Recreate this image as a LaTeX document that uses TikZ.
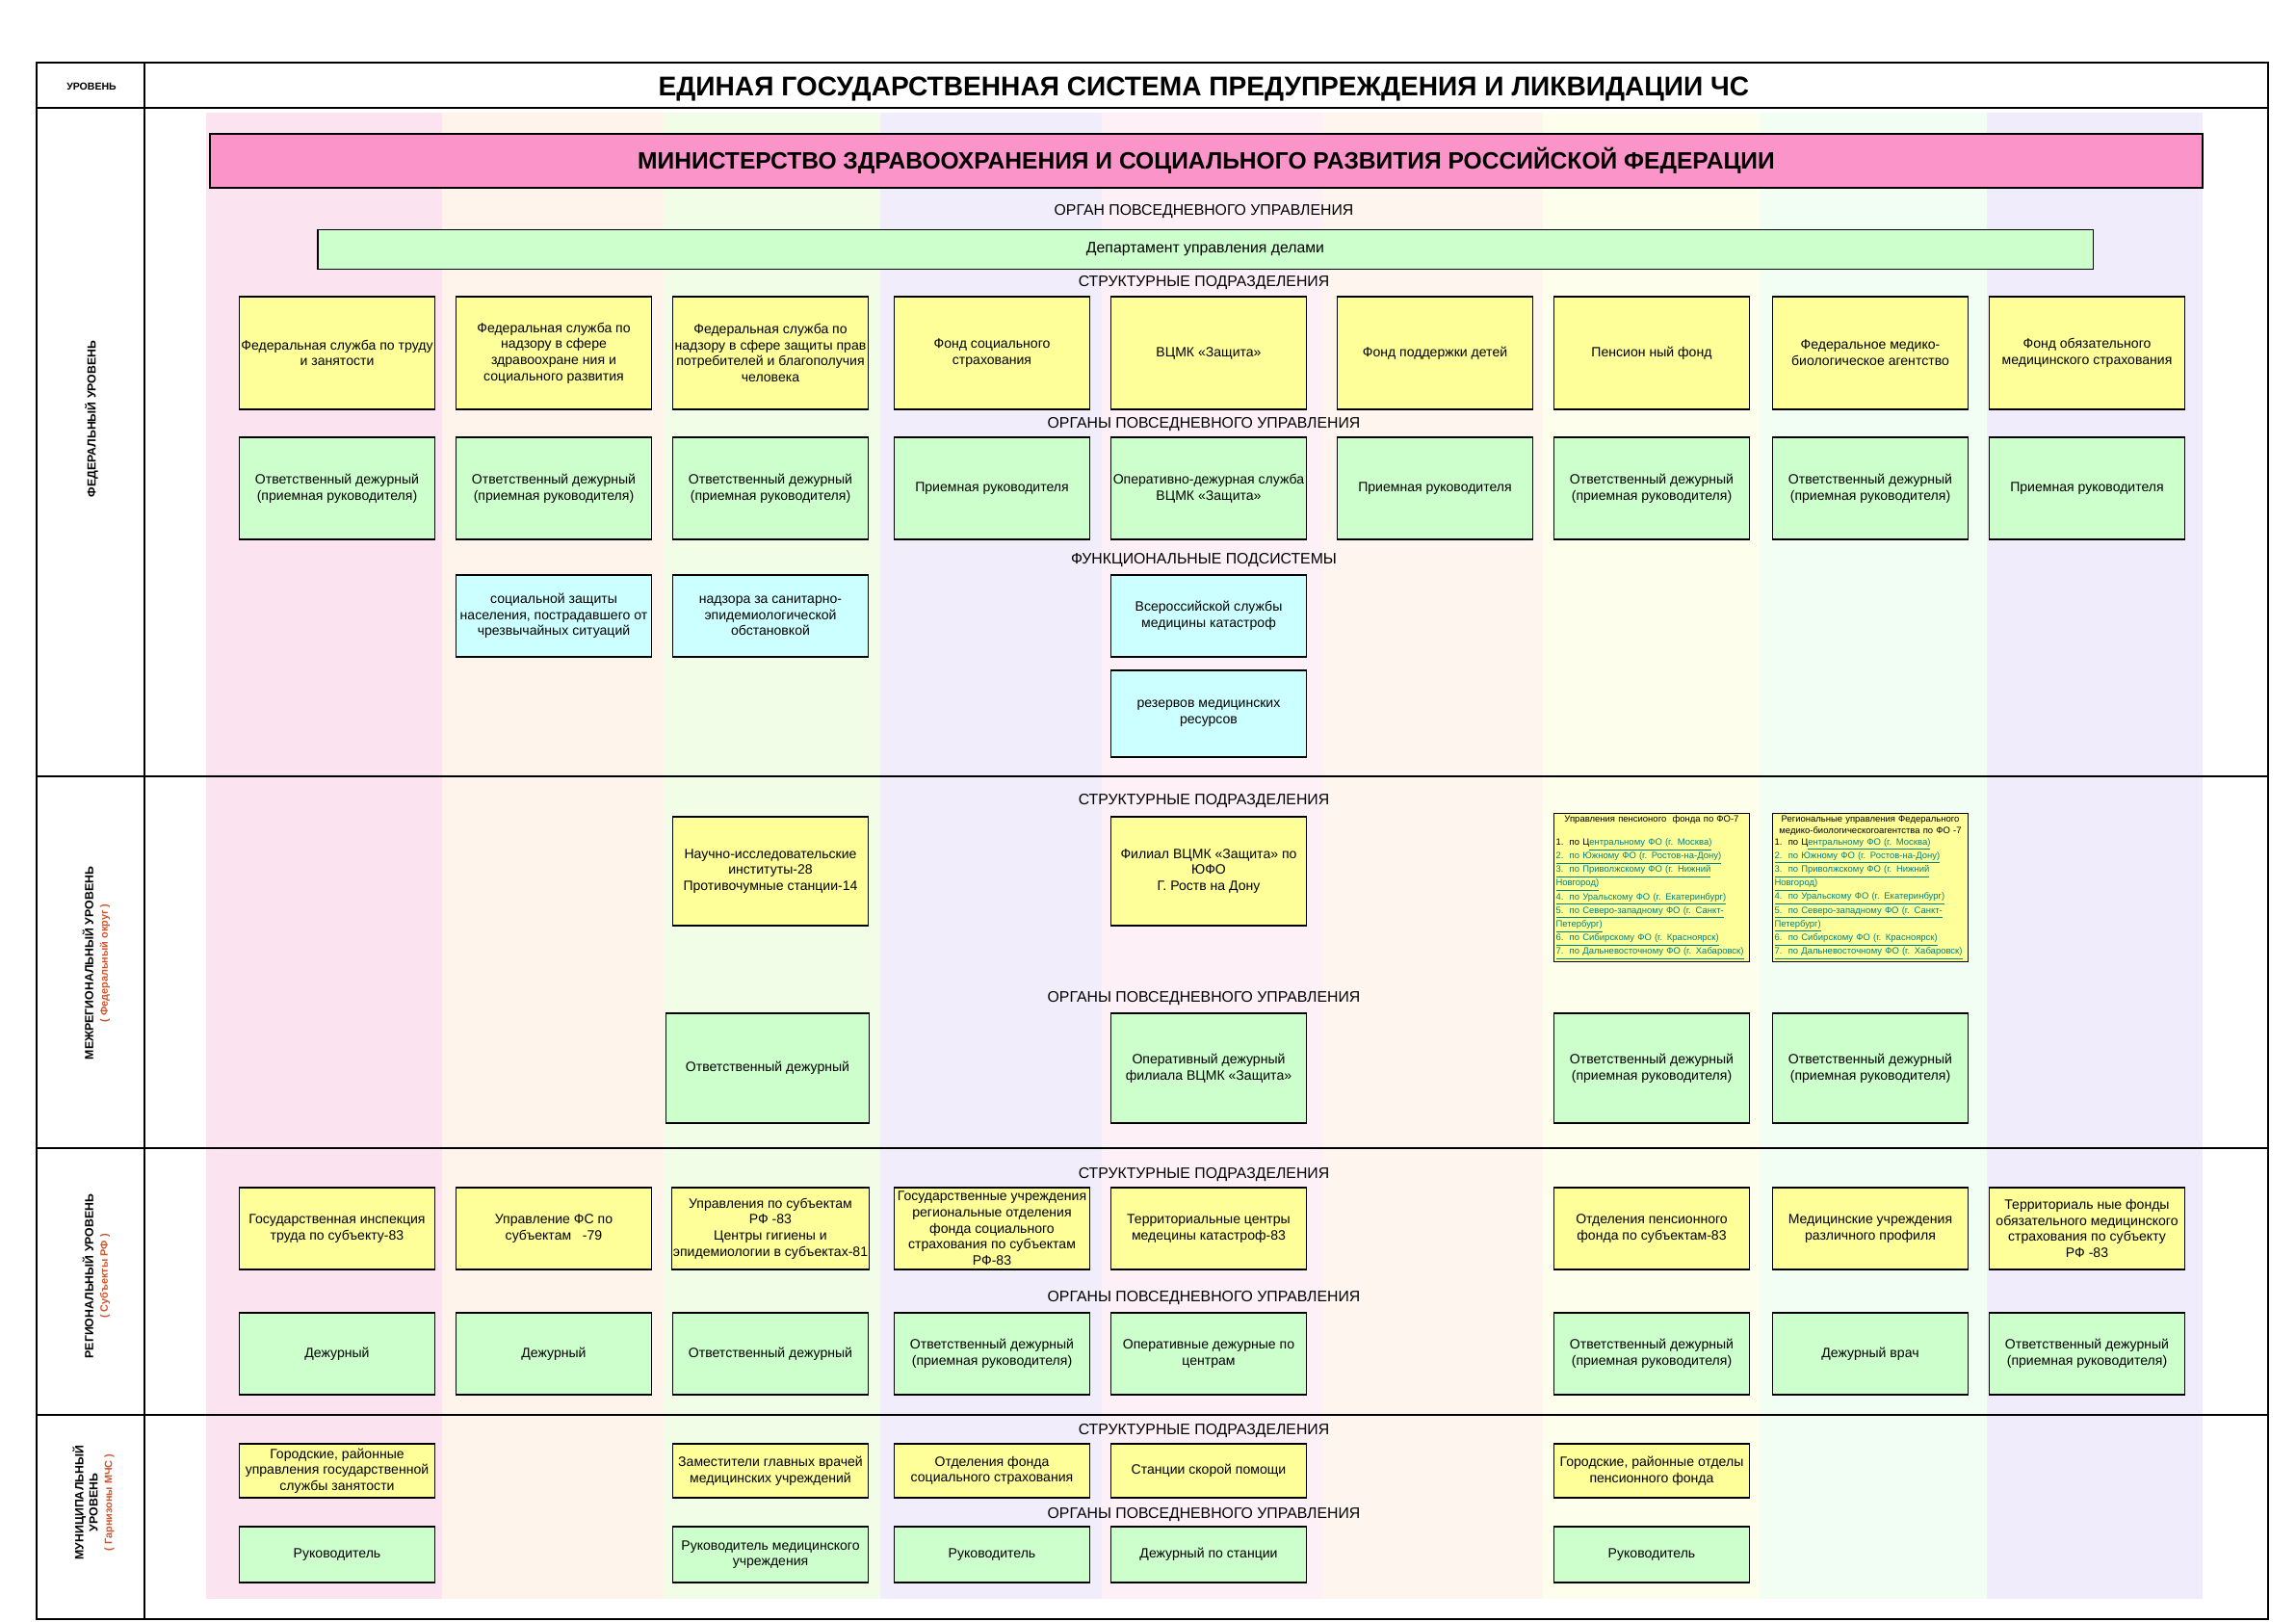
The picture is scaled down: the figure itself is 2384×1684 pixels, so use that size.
\documentclass[tikz,border=0pt]{standalone}
\usepackage{fontspec}
\setmainfont{Liberation Sans}
\definecolor{minpink}{RGB}{251,148,200}
\definecolor{boxyellow}{RGB}{255,255,153}
\definecolor{boxgreen}{RGB}{204,255,204}
\definecolor{boxcyan}{RGB}{204,255,255}
\definecolor{lvlred}{RGB}{205,85,45}
\definecolor{linkteal}{RGB}{0,128,128}
\definecolor{sa}{RGB}{252,227,240}
\definecolor{sb}{RGB}{254,244,236}
\definecolor{sc}{RGB}{241,253,231}
\definecolor{sd}{RGB}{241,237,251}
\definecolor{se}{RGB}{253,240,246}
\definecolor{sf}{RGB}{254,245,238}
\definecolor{sg}{RGB}{254,254,236}
\definecolor{sh}{RGB}{242,254,244}
\definecolor{si}{RGB}{240,236,251}
\newcommand{\boxfont}{\fontsize{8}{9.5}\selectfont}
\newcommand{\listfont}{\fontsize{5.4}{6.8}\selectfont}
\newcommand{\redfont}{\color{lvlred}\fontsize{6.2}{7.2}\selectfont}
\newcommand{\lnk}[1]{\textcolor{linkteal}{\underline{#1}}}
\newcommand{\okrlist}{%
1.\ \ по Ц\lnk{ентральному ФО (г. Москва)}\\
\lnk{2.\ \ по Южному ФО (г. Ростов-на-Дону)}\\
\lnk{3.\ \ по Приволжскому ФО (г. Нижний}\\
\lnk{Новгород)}\\
\lnk{4.\ \ по Уральскому ФО (г. Екатеринбург)}\\
\lnk{5.\ \ по Северо-западному ФО (г. Санкт-}\\
\lnk{Петербург)}\\
\lnk{6.\ \ по Сибирскому ФО (г. Красноярск)}\\
\lnk{7.\ \ по Дальневосточному ФО (г. Хабаровск)}}
\begin{document}
\begin{tikzpicture}[x=0.2mm,y=-0.2mm,
  box/.style={draw,line width=0.6pt,minimum width=40.6mm,inner sep=1pt,align=center,font=\boxfont},
  yel/.style={box,fill=boxyellow},
  grn/.style={box,fill=boxgreen},
  cyn/.style={box,fill=boxcyan},
  sect/.style={font=\fontsize{9}{11}\selectfont},
  lvl/.style={rotate=90,align=center,font=\bfseries\fontsize{7}{8.5}\selectfont}]
  \useasboundingbox (0,0) rectangle (2384,1684);
  \fill[white] (0,0) rectangle (2384,1684);
  \foreach \xa/\xb/\col in {214/459/sa,459/689/sb,689/914/sc,914/1144/sd,1144/1373/se,
    1373/1602/sf,1602/1827/sg,1827/2063/sh,2063/2287/si}
    \fill[\col] (\xa,117) rectangle (\xb,1660);
  \draw[line width=0.9pt] (38,65) rectangle (2355,1681);
  \draw[line width=0.9pt] (150,65) -- (150,1681);
  \foreach \yy in {112,806,1192,1469}
    \draw[line width=0.9pt] (38,\yy) -- (2355,\yy);

  \node[font=\bfseries\fontsize{6}{7}\selectfont] (hdr) at (95,90) {УРОВЕНЬ};
  \node[font=\bfseries\fontsize{16}{18}\selectfont] (title) at (1250,92)
    {ЕДИНАЯ ГОСУДАРСТВЕННАЯ СИСТЕМА ПРЕДУПРЕЖДЕНИЯ И ЛИКВИДАЦИИ ЧС};
  \node[lvl] (lfed) at (95,435) {ФЕДЕРАЛЬНЫЙ УРОВЕНЬ};
  \node[lvl] (lmreg) at (100,1000) {МЕЖРЕГИОНАЛЬНЫЙ УРОВЕНЬ\\{\redfont( Федеральный округ )}};
  \node[lvl] (lreg) at (100,1325) {РЕГИОНАЛЬНЫЙ УРОВЕНЬ\\{\redfont( Субъекты РФ )}};
  \node[lvl] (lmun) at (97,1560) {МУНИЦИПАЛЬНЫЙ\\УРОВЕНЬ\\{\redfont( Гарнизоны МЧС )}};

  \node[draw,line width=0.8pt,fill=minpink,minimum width=413.8mm,minimum height=11.2mm,
    font=\bfseries\fontsize{14}{16}\selectfont] (minzdrav) at (1252.5,167)
    {МИНИСТЕРСТВО ЗДРАВООХРАНЕНИЯ И СОЦИАЛЬНОГО РАЗВИТИЯ РОССИЙСКОЙ ФЕДЕРАЦИИ};
  \node[sect] (sorg) at (1250,220) {ОРГАН ПОВСЕДНЕВНОГО УПРАВЛЕНИЯ};
  \node[draw,line width=0.6pt,fill=boxgreen,minimum width=368.6mm,minimum height=8.3mm,
    font=\fontsize{9}{11}\selectfont] (dud) at (1251.5,259) {Департамент управления делами};

  \node[sect] (fstr) at (1250,294) {СТРУКТУРНЫЕ ПОДРАЗДЕЛЕНИЯ};
  \node[yel,minimum height=23.4mm] (fed1) at (350,366.5) {Федеральная служба по труду\\и занятости};
  \node[yel,minimum height=23.4mm] (fed2) at (575,366.5) {Федеральная служба по\\надзору в сфере\\здравоохране ния и\\социального развития};
  \node[yel,minimum height=23.4mm] (fed3) at (800,366.5) {Федеральная служба по\\надзору в сфере защиты прав\\потребителей и благополучия\\человека};
  \node[yel,minimum height=23.4mm] (fed4) at (1030,366.5) {Фонд социального\\страхования};
  \node[yel,minimum height=23.4mm] (fed5) at (1255,366.5) {ВЦМК «Защита»};
  \node[yel,minimum height=23.4mm] (fed6) at (1490,366.5) {Фонд поддержки детей};
  \node[yel,minimum height=23.4mm] (fed7) at (1715,366.5) {Пенсион ный фонд};
  \node[yel,minimum height=23.4mm] (fed8) at (1942,366.5) {Федеральное медико-\\биологическое агентство};
  \node[yel,minimum height=23.4mm] (fed9) at (2167,366.5) {Фонд обязательного\\медицинского страхования};

  \node[sect] (fop) at (1250,441) {ОРГАНЫ ПОВСЕДНЕВНОГО УПРАВЛЕНИЯ};
  \node[grn,minimum height=21.2mm] (fop1) at (350,507) {Ответственный дежурный\\(приемная руководителя)};
  \node[grn,minimum height=21.2mm] (fop2) at (575,507) {Ответственный дежурный\\(приемная руководителя)};
  \node[grn,minimum height=21.2mm] (fop3) at (800,507) {Ответственный дежурный\\(приемная руководителя)};
  \node[grn,minimum height=21.2mm] (fop4) at (1030,507) {Приемная руководителя};
  \node[grn,minimum height=21.2mm] (fop5) at (1255,507) {Оперативно-дежурная служба\\ВЦМК «Защита»};
  \node[grn,minimum height=21.2mm] (fop6) at (1490,507) {Приемная руководителя};
  \node[grn,minimum height=21.2mm] (fop7) at (1715,507) {Ответственный дежурный\\(приемная руководителя)};
  \node[grn,minimum height=21.2mm] (fop8) at (1942,507) {Ответственный дежурный\\(приемная руководителя)};
  \node[grn,minimum height=21.2mm] (fop9) at (2167,507) {Приемная руководителя};

  \node[sect] (ffun) at (1250,582) {ФУНКЦИОНАЛЬНЫЕ ПОДСИСТЕМЫ};
  \node[cyn,minimum height=17mm] (fun2) at (575,639.5) {социальной защиты\\населения, пострадавшего от\\чрезвычайных ситуаций};
  \node[cyn,minimum height=17mm] (fun3) at (800,639.5) {надзора за санитарно-\\эпидемиологической\\обстановкой};
  \node[cyn,minimum height=17mm] (fun5) at (1255,639.5) {Всероссийской службы\\медицины катастроф};
  \node[cyn,minimum height=18mm] (fun5b) at (1255,741) {резервов медицинских\\ресурсов};

  \node[sect] (mstr) at (1250,832) {СТРУКТУРНЫЕ ПОДРАЗДЕЛЕНИЯ};
  \node[yel,minimum height=22.6mm] (mreg3) at (800,904.5) {Научно-исследовательские\\институты-28\\Противочумные станции-14};
  \node[yel,minimum height=22.6mm] (mreg5) at (1255,904.5) {Филиал ВЦМК «Защита» по\\ЮФО\\Г. Роств на Дону};
  \node[yel,minimum height=29.4mm,text width=39.8mm,inner sep=0.4mm,align=left,font=\listfont] (mreg7) at (1715,921.5)
    {{\centering Управления пенсионого\ \ фонда по ФО-7\par}\vspace{6.8pt}\okrlist};
  \node[yel,minimum height=29.4mm,text width=39.8mm,inner sep=0.4mm,align=left,font=\listfont] (mreg8) at (1942,921.5)
    {{\centering Региональные управления Федерального\par медико-биологическогоагентства по ФО -7\par}\okrlist};

  \node[sect] (mop) at (1250,1037) {ОРГАНЫ ПОВСЕДНЕВНОГО УПРАВЛЕНИЯ};
  \node[grn,minimum height=22.8mm,minimum width=42.2mm] (mop3) at (797,1109) {Ответственный дежурный};
  \node[grn,minimum height=22.8mm] (mop5) at (1255,1109) {Оперативный дежурный\\филиала ВЦМК «Защита»};
  \node[grn,minimum height=22.8mm] (mop7) at (1715,1109) {Ответственный дежурный\\(приемная руководителя)};
  \node[grn,minimum height=22.8mm] (mop8) at (1942,1109) {Ответственный дежурный\\(приемная руководителя)};

  \node[sect] (rstr) at (1250,1220) {СТРУКТУРНЫЕ ПОДРАЗДЕЛЕНИЯ};
  \node[yel,minimum height=17mm] (reg1) at (350,1275.5) {Государственная инспекция\\труда по субъекту-83};
  \node[yel,minimum height=17mm] (reg2) at (575,1275.5) {Управление ФС по\\субъектам\ \ \ -79};
  \node[yel,minimum height=17mm] (reg3) at (800,1275.5) {Управления по субъектам\\РФ -83\\Центры гигиены и\\эпидемиологии в субъектах-81};
  \node[yel,minimum height=17mm] (reg4) at (1030,1275.5) {Государственные учреждения\\региональные отделения\\фонда социального\\страхования по субъектам\\РФ-83};
  \node[yel,minimum height=17mm] (reg5) at (1255,1275.5) {Территориальные центры\\медецины катастроф-83};
  \node[yel,minimum height=17mm] (reg7) at (1715,1275.5) {Отделения пенсионного\\фонда по субъектам-83};
  \node[yel,minimum height=17mm] (reg8) at (1942,1275.5) {Медицинские учреждения\\различного профиля};
  \node[yel,minimum height=17mm] (reg9) at (2167,1275.5) {Территориаль ные фонды\\обязательного медицинского\\страхования по субъекту\\РФ -83};

  \node[sect] (rop) at (1250,1348) {ОРГАНЫ ПОВСЕДНЕВНОГО УПРАВЛЕНИЯ};
  \node[grn,minimum height=17mm] (rop1) at (350,1405.5) {Дежурный};
  \node[grn,minimum height=17mm] (rop2) at (575,1405.5) {Дежурный};
  \node[grn,minimum height=17mm] (rop3) at (800,1405.5) {Ответственный дежурный};
  \node[grn,minimum height=17mm] (rop4) at (1030,1405.5) {Ответственный дежурный\\(приемная руководителя)};
  \node[grn,minimum height=17mm] (rop5) at (1255,1405.5) {Оперативные дежурные по\\центрам};
  \node[grn,minimum height=17mm] (rop7) at (1715,1405.5) {Ответственный дежурный\\(приемная руководителя)};
  \node[grn,minimum height=17mm] (rop8) at (1942,1405.5) {Дежурный врач};
  \node[grn,minimum height=17mm] (rop9) at (2167,1405.5) {Ответственный дежурный\\(приемная руководителя)};

  \node[sect] (ustr) at (1250,1486) {СТРУКТУРНЫЕ ПОДРАЗДЕЛЕНИЯ};
  \node[yel,minimum height=11.2mm] (mun1) at (350,1527) {Городские, районные\\управления государственной\\службы занятости};
  \node[yel,minimum height=11.2mm] (mun3) at (800,1527) {Заместители главных врачей\\медицинских учреждений};
  \node[yel,minimum height=11.2mm] (mun4) at (1030,1527) {Отделения фонда\\социального страхования};
  \node[yel,minimum height=11.2mm] (mun5) at (1255,1527) {Станции скорой помощи};
  \node[yel,minimum height=11.2mm] (mun7) at (1715,1527) {Городские, районные отделы\\пенсионного фонда};

  \node[sect] (uop) at (1250,1573) {ОРГАНЫ ПОВСЕДНЕВНОГО УПРАВЛЕНИЯ};
  \node[grn,minimum height=11.6mm] (uop1) at (350,1614) {Руководитель};
  \node[grn,minimum height=11.6mm] (uop3) at (800,1614) {Руководитель медицинского\\учреждения};
  \node[grn,minimum height=11.6mm] (uop4) at (1030,1614) {Руководитель};
  \node[grn,minimum height=11.6mm] (uop5) at (1255,1614) {Дежурный по станции};
  \node[grn,minimum height=11.6mm] (uop7) at (1715,1614) {Руководитель};
\end{tikzpicture}
\end{document}
